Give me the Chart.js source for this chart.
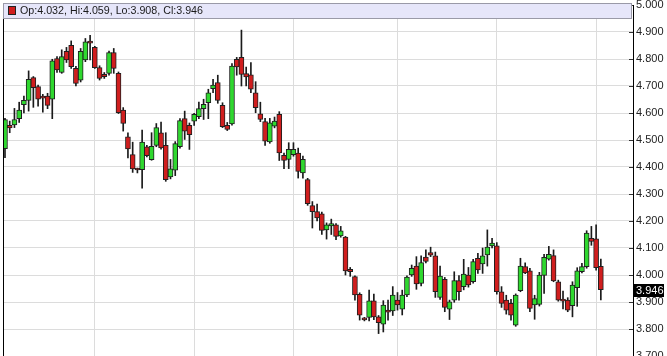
<!DOCTYPE html>
<html>
<head>
<meta charset="utf-8">
<script src="https://cdn.jsdelivr.net/npm/chart.js@4.4.0/dist/chart.umd.min.js"></script>
<style>
  html, body { margin: 0; padding: 0; background: #fff; }
  #wrap { width: 667px; height: 356px; }
</style>
</head>
<body>
<div id="wrap"><canvas id="chart" width="667" height="356"></canvas></div>
<script>
// daily candles, oldest first
const opens = [
  4.468,4.554,4.556,4.579,4.631,4.647,4.731,4.698,4.660,4.663,
  4.651,4.802,4.750,4.828,4.851,4.765,4.722,4.797,4.866,4.843,
  4.768,4.743,4.747,4.824,4.747,4.611,4.512,4.446,4.392,4.390,
  4.475,4.427,4.480,4.527,4.480,4.363,4.388,4.475,4.579,4.554,
  4.570,4.586,4.616,4.638,4.690,4.713,4.628,4.554,4.560,4.799,
  4.806,4.746,4.741,4.675,4.597,4.568,4.493,4.551,4.595,4.443,
  4.428,4.446,4.452,4.378,4.353,4.257,4.235,4.227,4.167,4.182,
  4.186,4.145,4.140,4.021,3.994,3.928,3.836,3.843,3.904,3.845,
  3.818,3.870,3.867,3.907,3.873,3.926,4.000,4.033,3.969,4.066,
  4.083,4.071,3.917,3.984,3.873,3.907,3.979,3.957,4.000,3.975,
  4.062,4.041,4.074,4.108,4.108,3.938,3.907,3.895,3.814,3.942,
  4.031,4.015,3.889,3.891,3.998,4.059,4.072,3.975,3.909,3.907,
  3.886,3.953,4.012,4.031,4.136,4.134,4.032
];
const highs = [
  4.580,4.570,4.617,4.640,4.663,4.756,4.735,4.703,4.669,4.673,
  4.799,4.809,4.834,4.843,4.867,4.773,4.839,4.876,4.888,4.847,
  4.775,4.750,4.829,4.839,4.752,4.620,4.527,4.492,4.396,4.537,
  4.480,4.527,4.561,4.566,4.527,4.428,4.494,4.579,4.607,4.563,
  4.599,4.640,4.651,4.688,4.725,4.740,4.638,4.565,4.783,4.806,
  4.907,4.770,4.787,4.716,4.640,4.580,4.580,4.585,4.605,4.452,
  4.490,4.490,4.470,4.440,4.358,4.272,4.263,4.233,4.193,4.207,
  4.190,4.180,4.143,4.028,3.997,3.934,3.843,3.944,3.929,3.850,
  3.905,3.907,3.957,3.935,3.944,3.997,4.037,4.068,4.071,4.093,
  4.103,4.085,4.033,3.991,3.907,4.012,3.998,4.058,4.028,4.058,
  4.080,4.100,4.167,4.136,4.120,3.957,3.925,3.910,3.930,4.062,
  4.045,4.025,3.925,4.010,4.077,4.106,4.093,3.981,3.940,3.916,
  3.975,4.027,4.043,4.164,4.180,4.186,4.059
];
const lows = [
  4.435,4.527,4.546,4.565,4.600,4.607,4.621,4.625,4.603,4.616,
  4.579,4.750,4.747,4.787,4.765,4.700,4.715,4.790,4.797,4.765,
  4.722,4.728,4.740,4.747,4.598,4.533,4.434,4.380,4.378,4.322,
  4.437,4.425,4.475,4.466,4.347,4.356,4.368,4.470,4.502,4.465,
  4.554,4.579,4.576,4.579,4.675,4.636,4.546,4.535,4.555,4.740,
  4.700,4.700,4.675,4.601,4.568,4.480,4.488,4.545,4.424,4.394,
  4.394,4.440,4.359,4.359,4.258,4.174,4.200,4.150,4.133,4.150,
  4.131,4.140,4.000,3.995,3.907,3.833,3.830,3.830,3.835,3.783,
  3.789,3.833,3.850,3.870,3.852,3.920,3.995,3.947,3.960,4.045,
  4.068,3.917,3.910,3.864,3.835,3.899,3.907,3.945,3.955,3.970,
  4.006,4.006,4.033,4.100,3.929,3.880,3.855,3.833,3.810,3.938,
  4.005,3.864,3.836,3.885,3.932,4.055,3.975,3.903,3.874,3.864,
  3.845,3.884,4.008,4.025,4.110,4.018,3.908
];
const closes = [
  4.576,4.545,4.576,4.611,4.647,4.725,4.694,4.651,4.655,4.628,
  4.793,4.760,4.809,4.797,4.772,4.710,4.828,4.864,4.859,4.768,
  4.728,4.735,4.824,4.765,4.601,4.561,4.467,4.393,4.389,4.492,
  4.442,4.477,4.546,4.471,4.353,4.393,4.487,4.572,4.533,4.520,
  4.595,4.616,4.632,4.675,4.703,4.647,4.549,4.539,4.774,4.771,
  4.743,4.734,4.688,4.620,4.576,4.496,4.564,4.570,4.452,4.424,
  4.465,4.465,4.384,4.428,4.264,4.235,4.211,4.165,4.186,4.190,
  4.143,4.164,4.015,4.012,3.926,3.851,3.834,3.904,3.845,3.823,
  3.889,3.862,3.926,3.889,3.926,3.992,4.025,3.967,4.046,4.050,
  4.073,3.938,3.996,3.880,3.901,3.979,3.938,4.003,3.963,4.050,
  4.019,4.071,4.103,4.118,3.938,3.895,3.870,3.851,3.926,4.033,
  4.008,3.876,3.913,4.000,4.065,4.077,3.978,3.907,3.903,3.870,
  3.963,4.015,4.031,4.155,4.124,4.027,3.946
];
// candle index where each month's vertical grid line falls
const monthLines = [19, 40, 61, 83, 104, 125];
const priceMin = 3.7;
const priceMax = 5.0;
const priceStep = 0.1;

const UP = '#2fd82f';
const DOWN = '#d01e1e';
const FONT = '"Liberation Sans", Arial, sans-serif';

const wickData = lows.map((lo, i) => ({ x: i, y: [lo, highs[i]] }));
const bodyData = opens.map((op, i) => ({ x: i, y: [op, closes[i]] }));
const bodyColors = opens.map((op, i) => closes[i] >= op ? UP : DOWN);

const last = closes.length - 1;

const frame = {
  id: 'frame',
  afterDraw(chart) {
    const { ctx, chartArea: a, scales: { y } } = chart;
    ctx.save();
    ctx.lineWidth = 1;

    // left edge of plot
    ctx.strokeStyle = '#000';
    ctx.beginPath();
    ctx.moveTo(a.left + 0.5, 3);
    ctx.lineTo(a.left + 0.5, a.bottom);
    ctx.stroke();

    // short tick marks inside the price axis
    ctx.strokeStyle = '#333';
    y.ticks.forEach(t => {
      const py = Math.round(y.getPixelForValue(t.value)) + 0.5;
      ctx.beginPath();
      ctx.moveTo(a.right - 4, py);
      ctx.lineTo(a.right, py);
      ctx.stroke();
    });

    // OHLC info strip
    ctx.fillStyle = '#e6e6fa';
    ctx.fillRect(a.left, 3, a.right - a.left - 1, 15);
    ctx.strokeStyle = '#9a9aa8';
    ctx.strokeRect(a.left + 0.5, 3.5, a.right - a.left - 2, 15);
    ctx.fillStyle = DOWN;
    ctx.fillRect(9, 7, 6, 7);
    ctx.strokeStyle = '#222';
    ctx.strokeRect(8.5, 6.5, 7, 8);
    ctx.fillStyle = '#1a1a1a';
    ctx.font = '10.7px ' + FONT;
    ctx.textBaseline = 'middle';
    ctx.textAlign = 'left';
    const info = 'Op:' + opens[last].toFixed(3) + ', Hi:' + highs[last].toFixed(3) +
      ', Lo:' + lows[last].toFixed(3) + ', Cl:' + closes[last].toFixed(3);
    ctx.fillText(info, 20, 11.5);

    // last price marker
    const py = Math.round(y.getPixelForValue(closes[last]));
    ctx.fillStyle = '#000';
    ctx.fillRect(a.right + 1, py - 6, 30, 13);
    ctx.fillStyle = '#fff';
    ctx.font = '11px ' + FONT;
    ctx.fillText(closes[last].toFixed(3), a.right + 3, py + 1);
    ctx.restore();
  }
};

new Chart(document.getElementById('chart').getContext('2d'), {
  type: 'bar',
  data: {
    datasets: [
      {
        label: 'Range',
        data: wickData,
        backgroundColor: '#1a1a1a',
        barThickness: 1,
        grouped: false,
        order: 2
      },
      {
        label: 'Body',
        data: bodyData,
        backgroundColor: bodyColors,
        borderColor: '#202020',
        borderWidth: 1,
        borderSkipped: false,
        barThickness: 5,
        minBarLength: 2,
        grouped: false,
        order: 1
      }
    ]
  },
  options: {
    responsive: false,
    animation: false,
    layout: { padding: { top: 5, left: 3, right: 0, bottom: 0 } },
    plugins: { legend: { display: false }, tooltip: { enabled: false } },
    scales: {
      x: {
        type: 'linear',
        min: -0.42,
        max: 132.8,
        offset: false,
        afterBuildTicks: s => { s.ticks = monthLines.map(v => ({ value: v })); },
        afterFit: s => { s.height = 0; s.paddingLeft = 0; s.paddingRight = 0; },
        ticks: { display: false },
        grid: { color: '#dcdcdc', drawTicks: false, offset: false },
        border: { display: false }
      },
      y: {
        position: 'right',
        min: priceMin,
        max: priceMax,
        afterFit: s => { s.width = 34; s.paddingTop = 0; s.paddingBottom = 0; },
        ticks: {
          stepSize: priceStep,
          padding: 3,
          color: '#222',
          font: { family: FONT, size: 11 },
          callback: v => v.toFixed(3)
        },
        grid: { color: '#dcdcdc', drawTicks: false },
        border: { color: '#000', width: 1 }
      }
    }
  },
  plugins: [frame]
});
</script>
</body>
</html>
